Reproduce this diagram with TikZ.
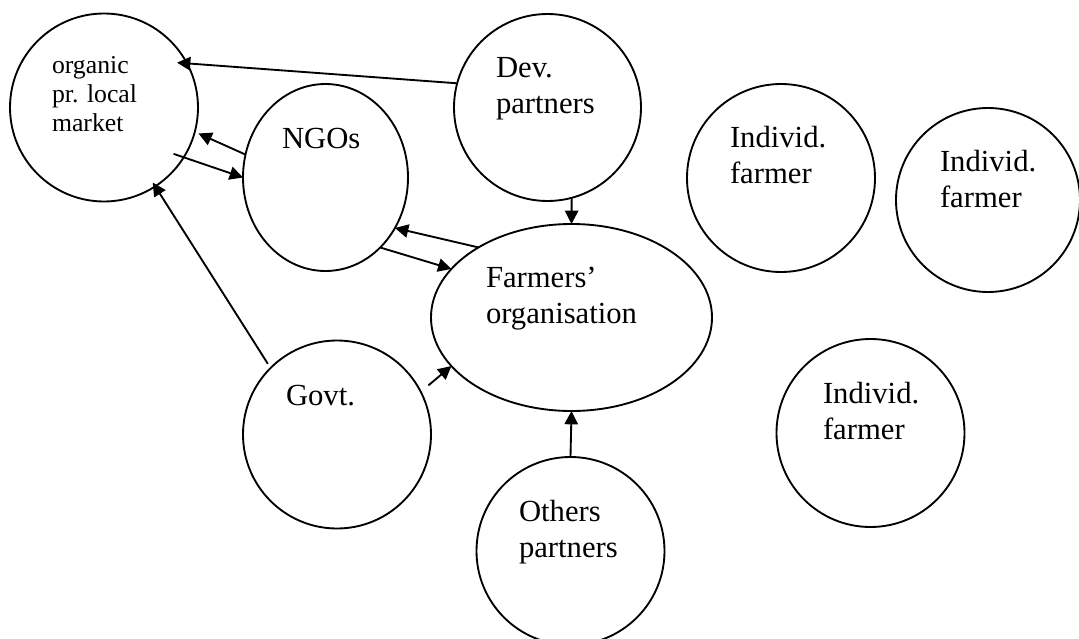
\documentclass[tikz,border=0pt]{standalone}
\usepackage{fontspec}
\setmainfont{Liberation Serif}
\usetikzlibrary{arrows.meta,shapes.geometric}
\begin{document}
\begin{tikzpicture}[x=0.75pt,y=-0.75pt,
  every node/.style={inner sep=0pt, outer sep=0pt},
  ring/.style={draw, line width=1.4pt, circle, minimum size=#1},
  oval/.style 2 args={draw, line width=1.4pt, ellipse, minimum width=#1, minimum height=#2},
  lbl/.style={anchor=base west, align=left, font=\fontsize{23}{27}\selectfont},
  smalllbl/.style={anchor=base west, align=left, font=\fontsize{19.3}{21.75}\selectfont},
  arr/.style={line width=1.4pt, -{Triangle[length=10pt,width=10pt]}}]
\useasboundingbox (0,0) rectangle (1079,639);

% actors
\node[ring=141pt] (org) at (104,107.5) {};
\node[ring=140.25pt] (dev) at (547.5,107.5) {};
\node[oval={123.75pt}{140.25pt}] (ngo) at (325.5,177.5) {};
\node[oval={210.75pt}{140.25pt}] (far) at (571.5,317.5) {};
\node[ring=141pt] (gov) at (337,434.5) {};
\node[ring=141pt] (oth) at (570.5,551) {};
\node[ring=141pt] (ind1) at (781,178) {};
\node[ring=138pt] (ind2) at (988,200) {};
\node[ring=141pt] (ind3) at (870.5,433) {};

% labels (base anchor sits on the last line)
\node[smalllbl] (orgtxt) at (52,131) {organic\\pr. local\\market};
\node[lbl] (ngotxt) at (282,148) {NGOs};
\node[lbl] (devtxt) at (496,113) {Dev.\\partners};
\node[lbl] (fartxt) at (486,323) {Farmers’\\organisation};
\node[lbl] (govtxt) at (286,405) {Govt.};
\node[lbl] (othtxt) at (519,557) {Others\\partners};
\node[lbl] (ind1txt) at (730,183) {Individ.\\farmer};
\node[lbl] (ind2txt) at (940,207) {Individ.\\farmer};
\node[lbl] (ind3txt) at (823,439) {Individ.\\farmer};

% relations
\draw[arr, shorten >=-7.5pt] (dev.165) -- (org.28);
\draw[arr, shorten >=3pt] (ngo.164) -- (org.-15);
\draw[arr, shorten <=-8pt] (org.-32) -- (ngo.180);
\draw[arr] (far.143) -- (ngo.-36);
\draw[arr] (ngo.-52) -- (far.158);
\draw[arr, shorten <=3.75pt, shorten >=-3.4pt] (gov.135) -- (org.-57);
\draw[arr, shorten <=7.5pt] (gov.27) -- (far.202);
\draw[arr] (dev.-75) -- (far.north);
\draw[arr] (oth.north) -- (far.south);
\end{tikzpicture}
\end{document}
